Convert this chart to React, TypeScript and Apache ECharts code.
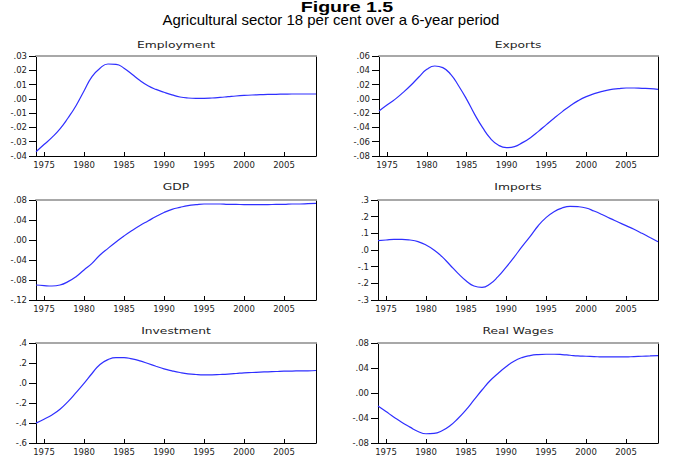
import React, { useEffect, useRef } from "react";
import * as echarts from "echarts";

const years: string[] = [];
for (let y = 1974; y <= 2009; y++) years.push(String(y));

const employment = [-0.037, -0.032, -0.027, -0.021, -0.0134, -0.0048, 0.0055, 0.0156, 0.0214, 0.0244, 0.0242, 0.0215, 0.0172, 0.0128, 0.0092, 0.0066, 0.0046, 0.0028, 0.0013, 0.0006, 0.0004, 0.0004, 0.0006, 0.0010, 0.0015, 0.0020, 0.0024, 0.0027, 0.0029, 0.0031, 0.0032, 0.0033, 0.0034, 0.0034, 0.0034, 0.0034];
const exportsS = [-0.017, -0.0086, -0.0007, 0.0087, 0.019, 0.0306, 0.0413, 0.046, 0.0437, 0.0343, 0.018, -0.0007, -0.0217, -0.0403, -0.0557, -0.065, -0.0683, -0.0669, -0.0613, -0.0543, -0.0455, -0.0361, -0.0268, -0.0179, -0.0095, -0.0025, 0.0031, 0.0073, 0.0105, 0.0129, 0.0143, 0.0152, 0.0152, 0.0147, 0.0143, 0.0133];
const gdp = [-0.09, -0.0913, -0.092, -0.09, -0.0833, -0.0733, -0.06, -0.0467, -0.03, -0.0167, -0.004, 0.008, 0.019, 0.029, 0.038, 0.047, 0.055, 0.0613, 0.0653, 0.0687, 0.0707, 0.072, 0.072, 0.072, 0.0713, 0.0713, 0.0707, 0.0707, 0.0707, 0.0707, 0.0713, 0.0713, 0.072, 0.072, 0.0727, 0.0733];
const imports = [0.056, 0.06, 0.064, 0.064, 0.06, 0.05, 0.03, 0.0, -0.04, -0.09, -0.14, -0.184, -0.216, -0.224, -0.204, -0.16, -0.104, -0.044, 0.02, 0.08, 0.144, 0.194, 0.23, 0.252, 0.262, 0.26, 0.252, 0.234, 0.213, 0.19, 0.168, 0.146, 0.124, 0.1, 0.075, 0.05];
const investment = [-0.401, -0.362, -0.319, -0.262, -0.186, -0.097, -0.004, 0.095, 0.185, 0.234, 0.254, 0.254, 0.241, 0.221, 0.195, 0.168, 0.142, 0.122, 0.105, 0.092, 0.085, 0.082, 0.082, 0.085, 0.089, 0.095, 0.102, 0.105, 0.109, 0.112, 0.115, 0.119, 0.119, 0.122, 0.122, 0.125];
const realWages = [-0.0207, -0.0297, -0.0387, -0.0472, -0.0546, -0.0615, -0.0652, -0.0647, -0.0604, -0.0525, -0.0408, -0.027, -0.0111, 0.0048, 0.0196, 0.0313, 0.0419, 0.0509, 0.0567, 0.0599, 0.0615, 0.062, 0.062, 0.0615, 0.0604, 0.0593, 0.0588, 0.0583, 0.0577, 0.0577, 0.0577, 0.0577, 0.0583, 0.0588, 0.0593, 0.0599];

const panelTitles = ["Employment", "Exports", "GDP", "Imports", "Investment", "Real Wages"];
const panelData = [employment, exportsS, gdp, imports, investment, realWages];
const yMin = [-0.04, -0.08, -0.12, -0.3, -0.6, -0.08];
const yMax = [0.03, 0.06, 0.08, 0.3, 0.4, 0.08];
const yStep = [0.01, 0.02, 0.04, 0.1, 0.2, 0.04];
const yDecimals = [2, 2, 2, 1, 1, 2];

const grids = [
  { left: 36, top: 56, width: 280, height: 100 },
  { left: 379, top: 56, width: 279, height: 100 },
  { left: 36, top: 200, width: 280, height: 100 },
  { left: 378, top: 200, width: 280, height: 100 },
  { left: 36, top: 343, width: 280, height: 100 },
  { left: 378, top: 343, width: 280, height: 100 },
];
const titlePos = [
  [176, 45], [518, 45], [176, 187], [518, 187], [176, 331], [518, 331],
];

const FONT = "DejaVu Sans";

export default function App() {
  const ref = useRef<HTMLDivElement>(null);
  useEffect(() => {
    if (!ref.current) return;
    const chart = echarts.init(ref.current, undefined, { renderer: "svg" });
    const xAxis: any[] = [];
    const yAxis: any[] = [];
    const series: any[] = [];
    const graphic: any[] = [
      {
        type: "text", x: 347, y: 7, scaleX: 1.4,
        style: { text: "Figure 1.5", fill: "#000", fontSize: 14, fontWeight: "bold", fontFamily: "Liberation Sans", textAlign: "center", textVerticalAlign: "middle" },
      },
      {
        type: "text", x: 331, y: 20, scaleX: 1.07,
        style: { text: "Agricultural sector 18 per cent over a 6-year period", fill: "#000", fontSize: 14, fontFamily: "Liberation Sans", textAlign: "center", textVerticalAlign: "middle" },
      },
    ];
    panelData.forEach((d, i) => {
      const dec = yDecimals[i];
      xAxis.push({
        type: "category", gridIndex: i, data: years, boundaryGap: false, position: "bottom",
        axisLine: { onZero: false, lineStyle: { color: "#000", width: 1 } },
        axisTick: { inside: true, length: 4, lineStyle: { color: "#000" }, interval: (_: number, v: string) => Number(v) % 5 === 0 },
        axisLabel: { interval: (_: number, v: string) => Number(v) % 5 === 0, color: "#222", fontFamily: FONT, fontSize: 8.5, margin: 4 },
        splitLine: { show: false },
      });
      xAxis.push({
        type: "category", gridIndex: i, data: years, boundaryGap: false, position: "top",
        axisLine: { onZero: false, lineStyle: { color: "#a8a8a8", width: 2 } },
        axisTick: { show: false }, axisLabel: { show: false }, splitLine: { show: false },
      });
      yAxis.push({
        type: "value", gridIndex: i, min: yMin[i], max: yMax[i], interval: yStep[i], position: "left",
        axisLine: { show: true, onZero: false, lineStyle: { color: "#000", width: 1 } },
        axisTick: { show: true, inside: false, length: 7, lineStyle: { color: "#000" } },
        axisLabel: {
          color: "#222", fontFamily: FONT, fontSize: 8.5, margin: 9,
          formatter: (v: number) => {
            const s = v.toFixed(dec);
            return s.replace("-0.", "-.").replace(/^0\./, ".");
          },
        },
        splitLine: { show: false },
      });
      yAxis.push({
        type: "value", gridIndex: i, min: yMin[i], max: yMax[i], interval: yStep[i], position: "right",
        axisLine: { show: true, onZero: false, lineStyle: { color: "#000", width: 1 } },
        axisTick: { show: false }, axisLabel: { show: false }, splitLine: { show: false },
      });
      series.push({
        type: "line", xAxisIndex: 2 * i, yAxisIndex: 2 * i, data: d, smooth: true,
        showSymbol: false, symbol: "none",
        lineStyle: { color: "#2f2fff", width: 1.2 },
      });
      graphic.push({
        type: "text", x: titlePos[i][0], y: titlePos[i][1], scaleX: 1.45,
        style: { text: panelTitles[i], fill: "#222", fontSize: 8.5, fontFamily: FONT, textAlign: "center", textVerticalAlign: "middle" },
      });
    });
    chart.setOption({
      animation: false,
      backgroundColor: "#fff",
      grid: grids.map((g) => ({ ...g, outerBoundsMode: "none", containLabel: false })),
      xAxis, yAxis, series, graphic,
    });
    return () => chart.dispose();
  }, []);
  return (
    <div
      ref={ref}
      style={{ position: "fixed", left: 0, top: 0, width: 694, height: 468, background: "#fff" }}
    />
  );
}
